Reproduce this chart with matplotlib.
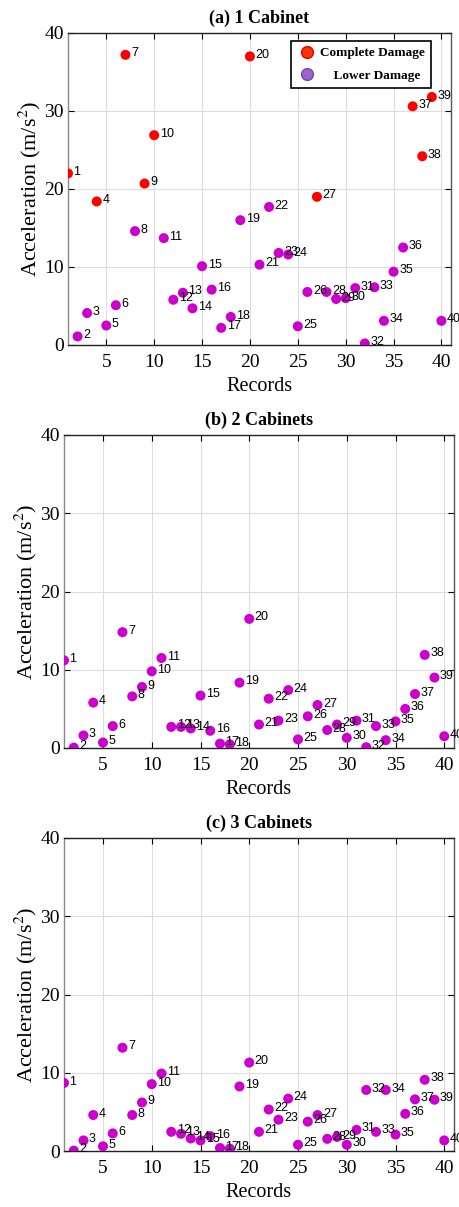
import matplotlib
matplotlib.use("Agg")
import matplotlib.pyplot as plt
from matplotlib.lines import Line2D

plt.rcParams['mathtext.fontset'] = 'stix'

records = list(range(1, 41))

acc_1cab = [22.0, 1.1, 4.1, 18.4, 2.5, 5.1, 37.2, 14.6, 20.7, 26.9,
            13.7, 5.8, 6.7, 4.7, 10.1, 7.1, 2.2, 3.6, 16.0, 37.0,
            10.3, 17.7, 11.8, 11.6, 2.4, 6.8, 19.0, 6.8, 5.9, 6.0,
            7.3, 0.2, 7.4, 3.1, 9.4, 12.5, 30.6, 24.2, 31.8, 3.1]
complete_1cab = [1, 4, 7, 9, 10, 20, 27, 37, 38, 39]

acc_2cab = [11.2, 0.05, 1.6, 5.8, 0.7, 2.8, 14.8, 6.6, 7.8, 9.8,
            11.5, 2.7, 2.7, 2.5, 6.7, 2.2, 0.56, 0.47, 8.35, 16.5,
            3.0, 6.3, 3.5, 7.4, 1.1, 4.05, 5.5, 2.3, 3.0, 1.3,
            3.5, 0.1, 2.8, 1.0, 3.4, 5.0, 6.9, 11.9, 9.0, 1.5]

acc_3cab = [8.7, 0.05, 1.35, 4.6, 0.6, 2.25, 13.2, 4.6, 6.2, 8.55,
            9.9, 2.45, 2.2, 1.6, 1.35, 1.9, 0.38, 0.3, 8.25, 11.3,
            2.45, 5.3, 4.0, 6.7, 0.8, 3.75, 4.6, 1.55, 1.8, 0.8,
            2.7, 7.8, 2.45, 7.8, 2.1, 4.75, 6.6, 9.1, 6.55, 1.35]

titles = ["(a) 1 Cabinet", "(b) 2 Cabinets", "(c) 3 Cabinets"]
legend_labels = ['Complete Damage', '    Lower Damage']
xticks = [5, 10, 15, 20, 25, 30, 35, 40]
yticks = [0, 10, 20, 30, 40]

RED = '#ff0000'
MAG = '#cc00cc'
SERIF = 'Liberation Serif'
SANS = 'Liberation Sans'

W, H = 459, 1207
fig = plt.figure(figsize=(W / 100, H / 100), dpi=100)

# axes boxes in pixel coords: left, right, top, bottom
boxes = [(68, 451, 33, 345), (64, 454, 435, 748), (64, 454, 838, 1151)]
datasets = [acc_1cab, acc_2cab, acc_3cab]

for i, (box, vals, title) in enumerate(zip(boxes, datasets, titles)):
    l, r, t, b = box
    ax = fig.add_axes([l / W, 1 - b / H, (r - l) / W, (b - t) / H])
    if i == 0:
        colors = [RED if rec in complete_1cab else MAG for rec in records]
    else:
        colors = [MAG] * len(records)
    ax.scatter(records, vals, s=52, c=colors, edgecolors='none', zorder=3)
    for rec, v in zip(records, vals):
        ax.annotate(str(rec), (rec, v), xytext=(4, 1), textcoords='offset points',
                    ha='left', va='center', fontsize=9, family=SANS,
                    color='black', zorder=4)
    ax.set_xlim(1, 41)
    ax.set_ylim(0, 40)
    ax.set_xticks(xticks)
    ax.set_yticks(yticks)
    ax.grid(True, color='#dddddd', linewidth=0.8, zorder=0)
    ax.set_axisbelow(True)
    ax.tick_params(direction='in', top=True, right=True, length=4,
                   labelsize=14, width=0.8)
    ax.tick_params(axis='x', pad=6.5)
    ax.tick_params(axis='y', pad=3)
    for lab in ax.get_xticklabels() + ax.get_yticklabels():
        lab.set_fontfamily(SERIF)
    ax.spines['left'].set_color('#888888')
    ax.spines['right'].set_color('#555555')
    ax.spines['top'].set_color('#222222')
    ax.spines['bottom'].set_color('#222222')
    for s in ax.spines.values():
        s.set_linewidth(1.0)
    ax.set_title(title, fontsize=13, fontweight='bold', family=SERIF, pad=7)
    ax.set_xlabel('Records', fontsize=14.5, family=SERIF, labelpad=4)
    ax.set_ylabel('Acceleration (m/s$^{2}$)', fontsize=16, family=SERIF, labelpad=1)

    if i == 0:
        handles = [
            Line2D([0], [0], marker='o', linestyle='none', markersize=8.5,
                   markerfacecolor='#ff3300', markeredgecolor='#dd0000'),
            Line2D([0], [0], marker='o', linestyle='none', markersize=8.5,
                   markerfacecolor='#9966cc', markeredgecolor='#7744aa'),
        ]
        leg = ax.legend(handles, legend_labels,
                        loc='upper right', bbox_to_anchor=(0.948, 0.974),
                        borderaxespad=0,
                        prop={'family': SERIF, 'weight': 'bold', 'size': 9.5},
                        frameon=True, fancybox=False, edgecolor='black',
                        framealpha=1, handlelength=1.6, handletextpad=0.2,
                        borderpad=0.45, labelspacing=0.8)
        leg.get_frame().set_linewidth(1.2)

fig.savefig('out.png', dpi=100)
